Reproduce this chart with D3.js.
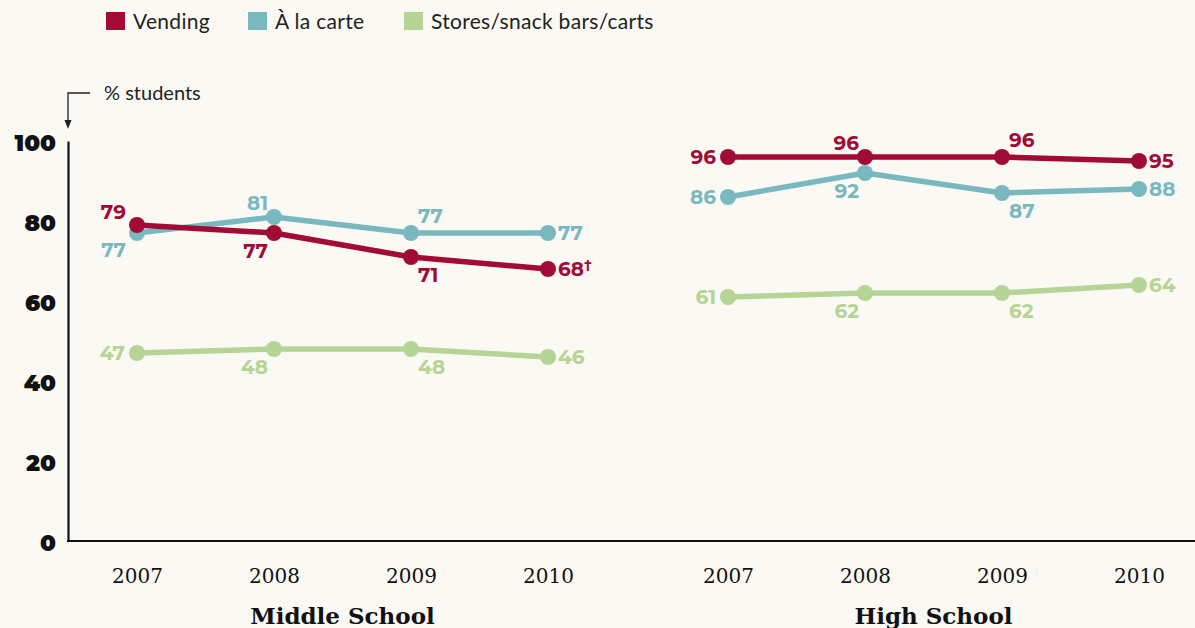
<!DOCTYPE html>
<html>
<head>
<meta charset="utf-8">
<script src="https://cdn.jsdelivr.net/npm/d3@7"></script>
<style>
  body { margin: 0; background: #faf9f4; }
  svg { display: block; }
</style>
</head>
<body>
<svg id="chart" width="1195" height="628"></svg>
<script>
// data
var years = ['2007', '2008', '2009', '2010'];
var schools = ['Middle School', 'High School'];
var seriesNames = ['Vending', 'À la carte', 'Stores/snack bars/carts'];
var seriesColors = ['#a30b37', '#7ab8bf', '#b5d495'];
var yTicks = [0, 20, 40, 60, 80, 100];

var middleVending = [79, 77, 71, 68];
var middleAlaCarte = [77, 81, 77, 77];
var middleStores = [47, 48, 48, 46];
var highVending = [96, 96, 96, 95];
var highAlaCarte = [86, 92, 87, 88];
var highStores = [61, 62, 62, 64];

// where each value label sits next to its point
var middleVendingPos = ['UL', 'DA', 'DR', 'R'];
var middleAlaCartePos = ['DL', 'UA', 'UR', 'R'];
var middleStoresPos = ['L', 'DA', 'DR', 'R'];
var highVendingPos = ['L', 'UA', 'UR', 'R'];
var highAlaCartePos = ['L', 'DA', 'DR', 'R'];
var highStoresPos = ['L', 'DA', 'DR', 'R'];
var middleNotes = ['', '', '', '†']; // footnote mark on 2010 vending

var placement = {
  L:  {anchor: 'end', dx: -12, dy: 0},
  UL: {anchor: 'end', dx: -11, dy: -13},
  DL: {anchor: 'end', dx: -11, dy: 17},
  UA: {anchor: 'end', dx: -6, dy: -14},
  DA: {anchor: 'end', dx: -6, dy: 18},
  UR: {anchor: 'start', dx: 7, dy: -17},
  DR: {anchor: 'start', dx: 7, dy: 18},
  R:  {anchor: 'start', dx: 10, dy: 0}
};

var svg = d3.select('#chart');
var numFont = 'Montserrat, "Noto Sans", sans-serif';
var serifFont = '"DejaVu Serif", serif';

var y = d3.scaleLinear().domain([0, 100]).range([541, 141]);
var xScales = [
  d3.scalePoint().domain(years).range([137, 548]),
  d3.scalePoint().domain(years).range([728, 1139])
];

var panels = [
  [
    {values: middleStores, pos: middleStoresPos, s: 2},
    {values: middleAlaCarte, pos: middleAlaCartePos, s: 1},
    {values: middleVending, pos: middleVendingPos, s: 0, notes: middleNotes}
  ],
  [
    {values: highStores, pos: highStoresPos, s: 2},
    {values: highAlaCarte, pos: highAlaCartePos, s: 1},
    {values: highVending, pos: highVendingPos, s: 0}
  ]
];

// legend
var legendX = [106, 248, 404];
var legend = svg.append('g').selectAll('g')
  .data(seriesNames)
  .enter().append('g')
    .attr('transform', function(d, i) { return 'translate(' + legendX[i] + ',12)'; });
legend.append('rect')
  .attr('width', 19).attr('height', 18)
  .attr('fill', function(d, i) { return seriesColors[i]; });
legend.append('text')
  .attr('x', 27).attr('y', 17)
  .attr('font-family', 'Lato, sans-serif')
  .attr('font-size', 21)
  .attr('letter-spacing', 0.3)
  .attr('fill', '#222')
  .text(function(d) { return d; });

// "% students" pointer
svg.append('path')
  .attr('d', 'M90,93H68V122')
  .attr('fill', 'none').attr('stroke', '#222').attr('stroke-width', 1.3);
svg.append('path')
  .attr('d', 'M64.5,120L71.5,120L68,129Z')
  .attr('fill', '#222');
svg.append('text')
  .attr('x', 104).attr('y', 100)
  .attr('font-family', 'Lato, sans-serif')
  .attr('font-size', 20)
  .attr('fill', '#222')
  .text('% students');

// y axis
var yAxis = svg.append('g')
  .attr('transform', 'translate(68,0)')
  .call(d3.axisLeft(y).tickValues(yTicks).tickSize(0).tickPadding(12));
yAxis.select('.domain').attr('stroke', '#111').attr('stroke-width', 2.2);
yAxis.selectAll('text')
  .attr('font-family', numFont)
  .attr('font-weight', 900)
  .attr('font-size', 23)
  .attr('fill', '#111')
  .attr('dy', '0.42em');

// baseline
svg.append('line')
  .attr('x1', 67).attr('x2', 1195)
  .attr('y1', y(0)).attr('y2', y(0))
  .attr('stroke', '#111').attr('stroke-width', 2.2);

var line = d3.line();

panels.forEach(function(panel, p) {
  var x = xScales[p];

  var xAxis = svg.append('g')
    .attr('transform', 'translate(0,' + y(0) + ')')
    .call(d3.axisBottom(x).tickSize(0).tickPadding(28));
  xAxis.select('.domain').remove();
  xAxis.selectAll('text')
    .attr('font-family', serifFont)
    .attr('font-size', 20)
    .attr('fill', '#111');

  svg.append('text')
    .attr('x', (x.range()[0] + x.range()[1]) / 2)
    .attr('y', 624)
    .attr('text-anchor', 'middle')
    .attr('font-family', serifFont)
    .attr('font-weight', 'bold')
    .attr('font-size', 23)
    .attr('fill', '#111')
    .text(schools[p]);

  panel.forEach(function(ser) {
    var color = seriesColors[ser.s];
    var pts = ser.values.map(function(v, i) { return [x(years[i]), y(v)]; });
    var g = svg.append('g');

    g.append('path')
      .attr('d', line(pts))
      .attr('fill', 'none')
      .attr('stroke', color)
      .attr('stroke-width', 5.5)
      .attr('stroke-linejoin', 'round');

    g.selectAll('circle')
      .data(ser.values)
      .enter().append('circle')
        .attr('cx', function(d, i) { return x(years[i]); })
        .attr('cy', function(d) { return y(d); })
        .attr('r', 8)
        .attr('fill', color);

    var labels = g.selectAll('text')
      .data(ser.values)
      .enter().append('text')
        .attr('x', function(d, i) { return x(years[i]) + placement[ser.pos[i]].dx; })
        .attr('y', function(d, i) { return y(d) + placement[ser.pos[i]].dy; })
        .attr('dy', '0.36em')
        .attr('text-anchor', function(d, i) { return placement[ser.pos[i]].anchor; })
        .attr('font-family', numFont)
        .attr('font-weight', 'bold')
        .attr('font-size', 20)
        .attr('fill', color)
        .text(function(d) { return d; });

    if (ser.notes) {
      labels.append('tspan')
        .attr('font-size', 13)
        .attr('dy', '-0.55em')
        .text(function(d, i) { return ser.notes[i]; });
    }
  });
});
</script>
</body>
</html>
